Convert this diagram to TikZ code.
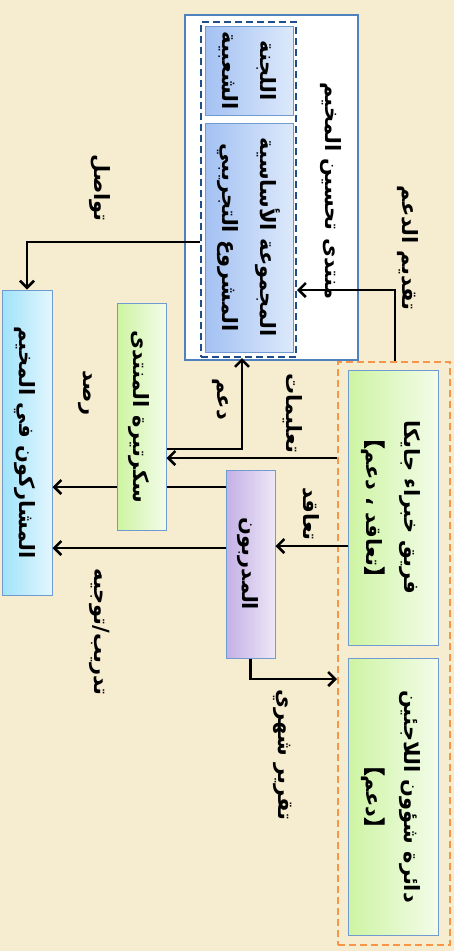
\documentclass[tikz,border=0pt]{standalone}
\usepackage{fontspec}
\usepackage{graphicx}
\usetikzlibrary{arrows.meta}
\newfontfamily\arabicfont[Script=Arabic]{DejaVu Sans}
\newfontfamily\cjk[FakeBold=4]{Noto Sans CJK SC}
\TeXXeTstate=1
\newcommand{\ar}[1]{{\arabicfont\bfseries\beginR #1\endR}}
\newcommand{\br}[1]{{\cjk #1}}
\newcommand{\vtext}[1]{\rotatebox{-90}{\begin{tabular}{@{}c@{}}#1\end{tabular}}}
\definecolor{paper}{HTML}{F6ECD0}
\definecolor{forumline}{HTML}{4F81BD}
\definecolor{coreline}{HTML}{1F4E8C}
\definecolor{orgline}{HTML}{F79646}
\definecolor{boxline}{HTML}{6F9BD1}
\definecolor{blueL}{HTML}{A3C1F2}
\definecolor{blueR}{HTML}{DDE9FB}
\definecolor{greenL}{HTML}{CDF4A2}
\definecolor{greenR}{HTML}{F3FCE9}
\definecolor{violetL}{HTML}{C3B0E5}
\definecolor{violetR}{HTML}{EDE7F7}
\definecolor{cyanL}{HTML}{A0E3FA}
\definecolor{cyanR}{HTML}{E3F6FD}
\begin{document}
\begin{tikzpicture}[x=1pt,y=-1pt,>={Straight Barb[length=7pt,width=14pt]},
  font=\fontsize{21}{38}\selectfont,
  conn/.style={->,line width=2.5pt},
  box/.style={draw=boxline,line width=1pt,inner sep=0pt},
  bluebox/.style={left color=blueL,right color=blueR},
  greenbox/.style={left color=greenL,right color=greenR},
  purplebox/.style={left color=violetL,right color=violetR},
  cyanbox/.style={left color=cyanL,right color=cyanR},
  dashbox/.style={dash pattern=on 7pt off 4pt,line width=2pt},
  lbl/.style={rotate=-90,font=\fontsize{21}{24}\selectfont}]
\fill[paper] (0,0) rectangle (454,951);
\useasboundingbox (0,0) rectangle (454,951);
% forum
\node[box,draw=forumline,line width=2pt,fill=white,minimum width=173pt,minimum height=345pt] (forum) at (271.5,187.5) {};
\node[draw=coreline,dashbox,minimum width=95pt,minimum height=335pt] (core) at (248.5,189.5) {};
\node[box,bluebox,minimum width=88pt,minimum height=89pt] (committee) at (249,70.5) {\vtext{\ar{اللجنة}\\\ar{الشعبية}}};
\node[box,bluebox,minimum width=88pt,minimum height=229pt] (group) at (249,237.5) {\vtext{\ar{المجموعة الأساسية}\\\ar{المشروع التجريبي}}};
\node[lbl] (forumtitle) at (331,191) {\ar{منتدى تحسين المخيم}};
% partners
\node[draw=orgline,dashbox,minimum width=112pt,minimum height=583pt] (partners) at (394,653.5) {};
\node[box,greenbox,minimum width=90pt,minimum height=275pt] (jica) at (393,507.5) {\vtext{\ar{فريق خبراء جايكا}\\\br{【}\ar{تعاقد ، دعم}\br{】}}};
\node[box,greenbox,minimum width=90pt,minimum height=277pt] (dra) at (393,796.5) {\vtext{\ar{دائرة شؤون اللاجئين}\\\br{【}\ar{دعم}\br{】}}};
% others
\node[box,purplebox,minimum width=49pt,minimum height=188pt] (trainers) at (250.5,564) {\vtext{\ar{المدربون}}};
\node[box,greenbox,minimum width=49pt,minimum height=227pt] (secretary) at (141.5,416.5) {\vtext{\ar{سكرتيرة المنتدى}}};
\node[box,cyanbox,minimum width=50pt,minimum height=305pt] (participants) at (27,442.5) {\vtext{\ar{المشاركون في المخيم}}};
% connectors
\coordinate (suppbend) at (395,290);
\coordinate (contact) at (200,242);
\coordinate (aid) at (242,449);
\coordinate (instr) at (0,458);
\coordinate (mon) at (0,487);
\coordinate (train) at (0,548);
\coordinate (contract) at (0,546);
\coordinate (report) at (0,679);
\draw[conn] (partners.north -| suppbend) |- (core.east |- suppbend);
\draw[conn] (core.west |- contact) -| (participants.north);
\draw[conn] (secretary.east |- aid) -| (core.south -| aid);
\draw[conn] (partners.west |- instr) -- (secretary.east |- instr);
\draw[line width=2.5pt] (trainers.west |- mon) -- (secretary.east |- mon);
\draw[conn] (secretary.west |- mon) -- (participants.east |- mon);
\draw[conn] (trainers.west |- train) -- (participants.east |- train);
\draw[conn] (jica.west |- contract) -- (trainers.east |- contract);
\draw[conn] (trainers.south) |- (partners.west |- report);
% labels
\node[lbl] (lsupport) at (408,248) {\ar{تقديم الدعم}};
\node[lbl] (lcontact) at (100,188) {\ar{تواصل}};
\node[lbl] (laid) at (220,399) {\ar{دعم}};
\node[lbl] (linstr) at (293,413) {\ar{تعليمات}};
\node[lbl] (lmon) at (85,393) {\ar{رصد}};
\node[lbl] (lcontract) at (311,514) {\ar{تعاقد}};
\node[lbl] (lreport) at (283,755) {\ar{تقرير شهري}};
\node[lbl] (ltrain) at (100,632) {\ar{تدريب/توجيه}};
\end{tikzpicture}
\end{document}
